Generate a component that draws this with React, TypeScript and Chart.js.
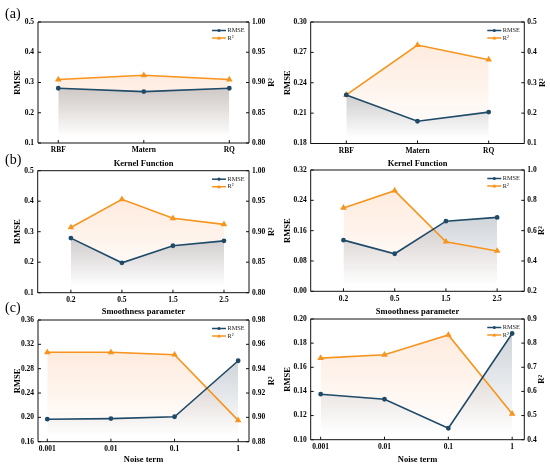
import { useEffect, useRef } from "react";
import Chart from "chart.js/auto";

const kernelLabels = ["RBF", "Matern", "RQ"];
const smoothLabels = ["0.2", "0.5", "1.5", "2.5"];
const noiseLabels = ["0.001", "0.01", "0.1", "1"];

// left column (first dataset), right column (second dataset)
const kernelRmseL = [0.281, 0.27, 0.281];
const kernelR2L = [0.905, 0.912, 0.905];
const kernelRmseR = [0.228, 0.202, 0.211];
const kernelR2R = [0.26, 0.424, 0.376];

const smoothRmseL = [0.279, 0.198, 0.254, 0.27];
const smoothR2L = [0.907, 0.953, 0.922, 0.912];
const smoothRmseR = [0.135, 0.099, 0.185, 0.195];
const smoothR2R = [0.75, 0.864, 0.527, 0.466];

const noiseRmseL = [0.197, 0.198, 0.201, 0.293];
const noiseR2L = [0.9535, 0.9535, 0.9515, 0.8975];
const noiseRmseR = [0.1377, 0.1335, 0.1095, 0.188];
const noiseR2R = [0.738, 0.752, 0.834, 0.507];

const kernelRmseTicksL = ["0.1", "0.2", "0.3", "0.4", "0.5"];
const kernelR2TicksL = ["0.80", "0.85", "0.90", "0.95", "1.00"];
const kernelRmseTicksR = ["0.18", "0.21", "0.24", "0.27", "0.30"];
const kernelR2TicksR = ["0.1", "0.2", "0.3", "0.4", "0.5"];
const smoothRmseTicksL = ["0.1", "0.2", "0.3", "0.4", "0.5"];
const smoothR2TicksL = ["0.80", "0.85", "0.90", "0.95", "1.00"];
const smoothRmseTicksR = ["0.00", "0.08", "0.16", "0.24", "0.32"];
const smoothR2TicksR = ["0.2", "0.4", "0.6", "0.8", "1.0"];
const noiseRmseTicksL = ["0.16", "0.20", "0.24", "0.28", "0.32", "0.36"];
const noiseR2TicksL = ["0.88", "0.90", "0.92", "0.94", "0.96", "0.98"];
const noiseRmseTicksR = ["0.10", "0.12", "0.14", "0.16", "0.18", "0.20"];
const noiseR2TicksR = ["0.4", "0.5", "0.6", "0.7", "0.8", "0.9"];

const SERIF = "'Liberation Serif', 'Times New Roman', serif";
const BLUE = "#1f4a68";
const ORANGE = "#f7941d";

type PanelSpec = {
  labels: string[];
  rmse: number[];
  r2: number[];
  rmseTicks: string[];
  r2Ticks: string[];
  xTitle: string;
  xMin: number;
  xMax: number;
  left: number;
  top: number;
  w: number;
  h: number;
  plot: [number, number, number, number];
  xTitlePad: number;
  leftTitlePad: number;
  rTitleX: number;
};

const panels: PanelSpec[] = [
  {
    labels: kernelLabels, rmse: kernelRmseL, r2: kernelR2L,
    rmseTicks: kernelRmseTicksL, r2Ticks: kernelR2TicksL, xTitle: "Kernel Function",
    xMin: -0.237, xMax: 2.23, left: 0, top: 0, w: 285, h: 170,
    plot: [38, 22, 249, 143], xTitlePad: 1, leftTitlePad: 13, rTitleX: 272,
  },
  {
    labels: kernelLabels, rmse: kernelRmseR, r2: kernelR2R,
    rmseTicks: kernelRmseTicksR, r2Ticks: kernelR2TicksR, xTitle: "Kernel Function",
    xMin: -0.5, xMax: 2.5, left: 275, top: 0, w: 275, h: 170,
    plot: [310.7, 22, 524.3, 143.5], xTitlePad: 1, leftTitlePad: 8, rTitleX: 543,
  },
  {
    labels: smoothLabels, rmse: smoothRmseL, r2: smoothR2L,
    rmseTicks: smoothRmseTicksL, r2Ticks: smoothR2TicksL, xTitle: "Smoothness parameter",
    xMin: -0.65, xMax: 3.49, left: 0, top: 150, w: 285, h: 170,
    plot: [37.7, 170.7, 249, 292.7], xTitlePad: 3, leftTitlePad: 13, rTitleX: 272,
  },
  {
    labels: smoothLabels, rmse: smoothRmseR, r2: smoothR2R,
    rmseTicks: smoothRmseTicksR, r2Ticks: smoothR2TicksR, xTitle: "Smoothness parameter",
    xMin: -0.64, xMax: 3.53, left: 275, top: 150, w: 275, h: 170,
    plot: [310.7, 170, 524.3, 291.3], xTitlePad: 3, leftTitlePad: 8, rTitleX: 542,
  },
  {
    labels: noiseLabels, rmse: noiseRmseL, r2: noiseR2L,
    rmseTicks: noiseRmseTicksL, r2Ticks: noiseR2TicksL, xTitle: "Noise term",
    xMin: -0.146, xMax: 3.17, left: 0, top: 300, w: 285, h: 167,
    plot: [38, 320, 249, 441.7], xTitlePad: 2, leftTitlePad: 13, rTitleX: 272,
  },
  {
    labels: noiseLabels, rmse: noiseRmseR, r2: noiseR2R,
    rmseTicks: noiseRmseTicksR, r2Ticks: noiseR2TicksR, xTitle: "Noise term",
    xMin: -0.156, xMax: 3.19, left: 275, top: 300, w: 275, h: 167,
    plot: [310.7, 319, 524.3, 439.7], xTitlePad: 2, leftTitlePad: 8, rTitleX: 542,
  },
];

function fillGradient(color: string, alpha: number) {
  return (context: any) => {
    const chart = context.chart;
    const area = chart.chartArea;
    if (!area) return "transparent";
    const ds = chart.data.datasets[context.datasetIndex];
    const scale = chart.scales[ds.yAxisID];
    const maxVal = Math.max(...ds.data.map((d: any) => d.y));
    const topPx = scale.getPixelForValue(maxVal);
    const g = chart.ctx.createLinearGradient(0, topPx, 0, area.bottom - 6);
    g.addColorStop(0, `rgba(${color},${alpha})`);
    g.addColorStop(1, `rgba(${color},0)`);
    return g;
  };
}

function makeFramePlugin(p: PanelSpec) {
  return {
    id: "frame",
    afterDraw(chart: any) {
      const { ctx, chartArea: a } = chart;
      ctx.save();
      ctx.strokeStyle = "#111111";
      ctx.lineWidth = 1;
      ctx.beginPath();
      ctx.rect(a.left, a.top, a.right - a.left, a.bottom - a.top);
      ctx.stroke();

      // inward tick marks
      const tl = 3;
      ctx.beginPath();
      const xs = chart.scales.x;
      xs.ticks.forEach((t: any) => {
        const px = xs.getPixelForValue(t.value);
        ctx.moveTo(px, a.bottom);
        ctx.lineTo(px, a.bottom - tl);
      });
      const yl = chart.scales.y;
      yl.ticks.forEach((t: any) => {
        const py = yl.getPixelForValue(t.value);
        ctx.moveTo(a.left, py);
        ctx.lineTo(a.left + tl, py);
      });
      const yr = chart.scales.y1;
      yr.ticks.forEach((t: any) => {
        const py = yr.getPixelForValue(t.value);
        ctx.moveTo(a.right, py);
        ctx.lineTo(a.right - tl, py);
      });
      ctx.stroke();

      // right axis title, read from bottom to top
      ctx.save();
      ctx.translate(p.rTitleX - p.left, (a.top + a.bottom) / 2);
      ctx.rotate(-Math.PI / 2);
      ctx.font = `bold 8.5px ${SERIF}`;
      ctx.fillStyle = "#000";
      ctx.textAlign = "center";
      ctx.textBaseline = "middle";
      ctx.fillText("R²", 0, 0);
      ctx.restore();

      // legend in the top right corner
      const rows = [
        { text: "RMSE", color: BLUE, marker: "circle" },
        { text: "R²", color: ORANGE, marker: "triangle" },
      ];
      ctx.font = `6.3px ${SERIF}`;
      ctx.textBaseline = "middle";
      ctx.textAlign = "left";
      rows.forEach((r, i) => {
        const y = a.top + 8.5 + i * 7.5;
        const x0 = a.right - 37;
        const x1 = a.right - 23;
        ctx.strokeStyle = r.color;
        ctx.lineWidth = 1.5;
        ctx.beginPath();
        ctx.moveTo(x0, y);
        ctx.lineTo(x1, y);
        ctx.stroke();
        ctx.fillStyle = r.color;
        const mx = (x0 + x1) / 2;
        ctx.beginPath();
        if (r.marker === "circle") {
          ctx.arc(mx, y, 1.6, 0, Math.PI * 2);
        } else {
          ctx.moveTo(mx, y - 2);
          ctx.lineTo(mx + 2, y + 1.5);
          ctx.lineTo(mx - 2, y + 1.5);
          ctx.closePath();
        }
        ctx.fill();
        ctx.fillStyle = "#222";
        ctx.fillText(r.text, x1 + 1.5, y);
      });
      ctx.restore();
    },
  };
}

function Panel({ p }: { p: PanelSpec }) {
  const canvasRef = useRef<HTMLCanvasElement | null>(null);

  useEffect(() => {
    if (!canvasRef.current) {
      return;
    }
    const [x0, y0, x1, y1] = p.plot;
    const rmseVals = p.rmseTicks.map(Number);
    const r2Vals = p.r2Ticks.map(Number);
    const tickFont = { family: SERIF, size: 7.5, weight: "bold" as const };
    const titleFont = { family: SERIF, size: 8.5, weight: "bold" as const };
    const noGrid = { display: false, drawTicks: false, drawOnChartArea: false };

    const chart = new Chart(canvasRef.current, {
      type: "line",
      data: {
        datasets: [
          {
            label: "RMSE",
            data: p.rmse.map((v, i) => ({ x: i, y: v })),
            yAxisID: "y",
            borderColor: BLUE,
            backgroundColor: fillGradient("70,90,112", 0.26),
            pointBackgroundColor: BLUE,
            pointBorderColor: BLUE,
            pointStyle: "circle",
            pointRadius: 1.6,
            borderWidth: 1.6,
            fill: "start",
          },
          {
            label: "R²",
            data: p.r2.map((v, i) => ({ x: i, y: v })),
            yAxisID: "y1",
            borderColor: ORANGE,
            backgroundColor: fillGradient("250,155,90", 0.2),
            pointBackgroundColor: ORANGE,
            pointBorderColor: ORANGE,
            pointStyle: "triangle",
            pointRadius: 2.2,
            borderWidth: 1.6,
            fill: "start",
          },
        ],
      },
      options: {
        responsive: false,
        animation: false,
        layout: { padding: { top: y0 - p.top, left: 0, right: 0, bottom: 0 } },
        plugins: {
          legend: { display: false },
          tooltip: { enabled: false },
          filler: { drawTime: "beforeDatasetsDraw" },
        },
        scales: {
          x: {
            type: "linear",
            min: p.xMin,
            max: p.xMax,
            afterBuildTicks: (scale: any) => {
              scale.ticks = p.labels.map((_, i) => ({ value: i }));
            },
            afterFit: (scale: any) => {
              scale.height = p.top + p.h - y1;
            },
            ticks: {
              callback: (_v: any, i: number) => p.labels[i],
              font: tickFont,
              color: "#000",
              padding: 3,
              autoSkip: false,
              maxRotation: 0,
            },
            grid: noGrid,
            border: { display: false },
            title: {
              display: true,
              text: p.xTitle,
              font: titleFont,
              color: "#000",
              padding: { top: 0, bottom: p.xTitlePad },
            },
          },
          y: {
            type: "linear",
            position: "left",
            min: rmseVals[0],
            max: rmseVals[rmseVals.length - 1],
            afterBuildTicks: (scale: any) => {
              scale.ticks = rmseVals.map((v) => ({ value: v }));
            },
            afterFit: (scale: any) => {
              scale.width = x0 - p.left;
            },
            ticks: {
              callback: (_v: any, i: number) => p.rmseTicks[i],
              font: tickFont,
              color: "#000",
              padding: 4,
            },
            grid: noGrid,
            border: { display: false },
            title: {
              display: true,
              text: "RMSE",
              font: titleFont,
              color: "#000",
              padding: { top: p.leftTitlePad, bottom: 0 },
            },
          },
          y1: {
            type: "linear",
            position: "right",
            min: r2Vals[0],
            max: r2Vals[r2Vals.length - 1],
            afterBuildTicks: (scale: any) => {
              scale.ticks = r2Vals.map((v) => ({ value: v }));
            },
            afterFit: (scale: any) => {
              scale.width = p.left + p.w - x1;
            },
            ticks: {
              callback: (_v: any, i: number) => p.r2Ticks[i],
              font: tickFont,
              color: "#000",
              padding: 3,
            },
            grid: noGrid,
            border: { display: false },
          },
        },
      },
      plugins: [makeFramePlugin(p)],
    });

    return () => chart.destroy();
  }, [p]);

  return (
    <canvas
      ref={canvasRef}
      width={p.w}
      height={p.h}
      style={{ position: "absolute", left: p.left, top: p.top, width: p.w, height: p.h }}
    />
  );
}

const tags = [
  { text: "(a)", top: 6 },
  { text: "(b)", top: 152 },
  { text: "(c)", top: 300 },
];

export default function App() {
  return (
    <div style={{ position: "absolute", left: 0, top: 0, width: 550, height: 467, background: "#fff", overflow: "hidden" }}>
      {panels.map((p, i) => (
        <Panel key={i} p={p} />
      ))}
      {tags.map((t) => (
        <div
          key={t.text}
          style={{ position: "absolute", left: 5, top: t.top, fontFamily: SERIF, fontSize: 14, lineHeight: "16px", color: "#000" }}
        >
          {t.text}
        </div>
      ))}
    </div>
  );
}
